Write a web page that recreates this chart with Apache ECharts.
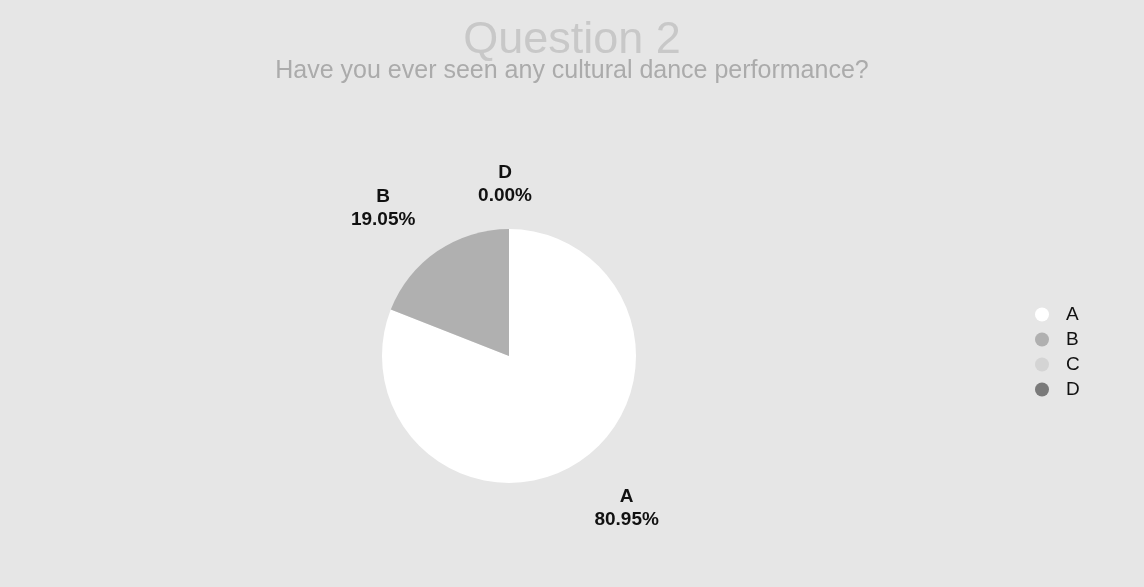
<!DOCTYPE html>
<html>
<head>
<meta charset="utf-8">
<script src="https://cdn.jsdelivr.net/npm/echarts@6/dist/echarts.min.js"></script>
<style>html,body{margin:0;padding:0;background:#e6e6e6;}#main{width:1144px;height:587px;}</style>
</head>
<body>
<div id="main"></div>
<script>
const titleText = 'Question 2';
const subtitleText = 'Have you ever seen any cultural dance performance?';
const categories = ['A', 'B', 'C', 'D'];
const values = [80.95, 19.05, 0, 0];
const showLabel = [true, true, false, true];
const colors = ['#ffffff', '#b0b0b0', '#d4d4d4', '#7a7a7a'];
// per-slice label line lengths (style only)
const lineLen = [57, 52, 45, 45];
const lineLen2 = [14, 25, 4, 4];

const chart = echarts.init(document.getElementById('main'));
chart.setOption({
  backgroundColor: '#e6e6e6',
  animation: false,
  title: [{
    text: titleText,
    left: 'center',
    top: 13,
    textStyle: { fontSize: 45, fontWeight: 'normal', color: '#c8c8c8', fontFamily: 'Liberation Sans' }
  }, {
    text: subtitleText,
    left: 'center',
    top: 54,
    textStyle: { fontSize: 25, fontWeight: 'normal', color: '#ababab', fontFamily: 'Liberation Sans' }
  }],
  legend: {
    orient: 'vertical',
    left: 1030,
    top: 300,
    itemGap: 6,
    icon: 'circle',
    itemWidth: 14,
    itemHeight: 14,
    data: categories,
    textStyle: { fontSize: 19, color: '#111', fontFamily: 'Liberation Sans', padding: [0, 0, 0, 12] }
  },
  color: colors,
  series: [{
    type: 'pie',
    center: [509, 356],
    radius: 127,
    startAngle: 90,
    avoidLabelOverlap: false,
    data: categories.map((c, i) => ({
      name: c,
      value: values[i],
      label: { show: showLabel[i] },
      labelLine: { length: lineLen[i], length2: lineLen2[i] }
    })),
    label: {
      show: true,
      formatter: (p) => p.name + '\n' + p.percent.toFixed(2) + '%',
      fontSize: 19,
      fontWeight: 'bold',
      color: '#111',
      lineHeight: 23,
      fontFamily: 'Liberation Sans'
    },
    labelLine: { show: false },
    labelLayout: (p) => {
      const pts = p.labelLinePoints;
      if (!pts) return {};
      return { x: pts[2][0], y: pts[2][1], align: 'center', verticalAlign: 'middle' };
    },
    itemStyle: { borderWidth: 0 }
  }]
});
</script>
</body>
</html>
